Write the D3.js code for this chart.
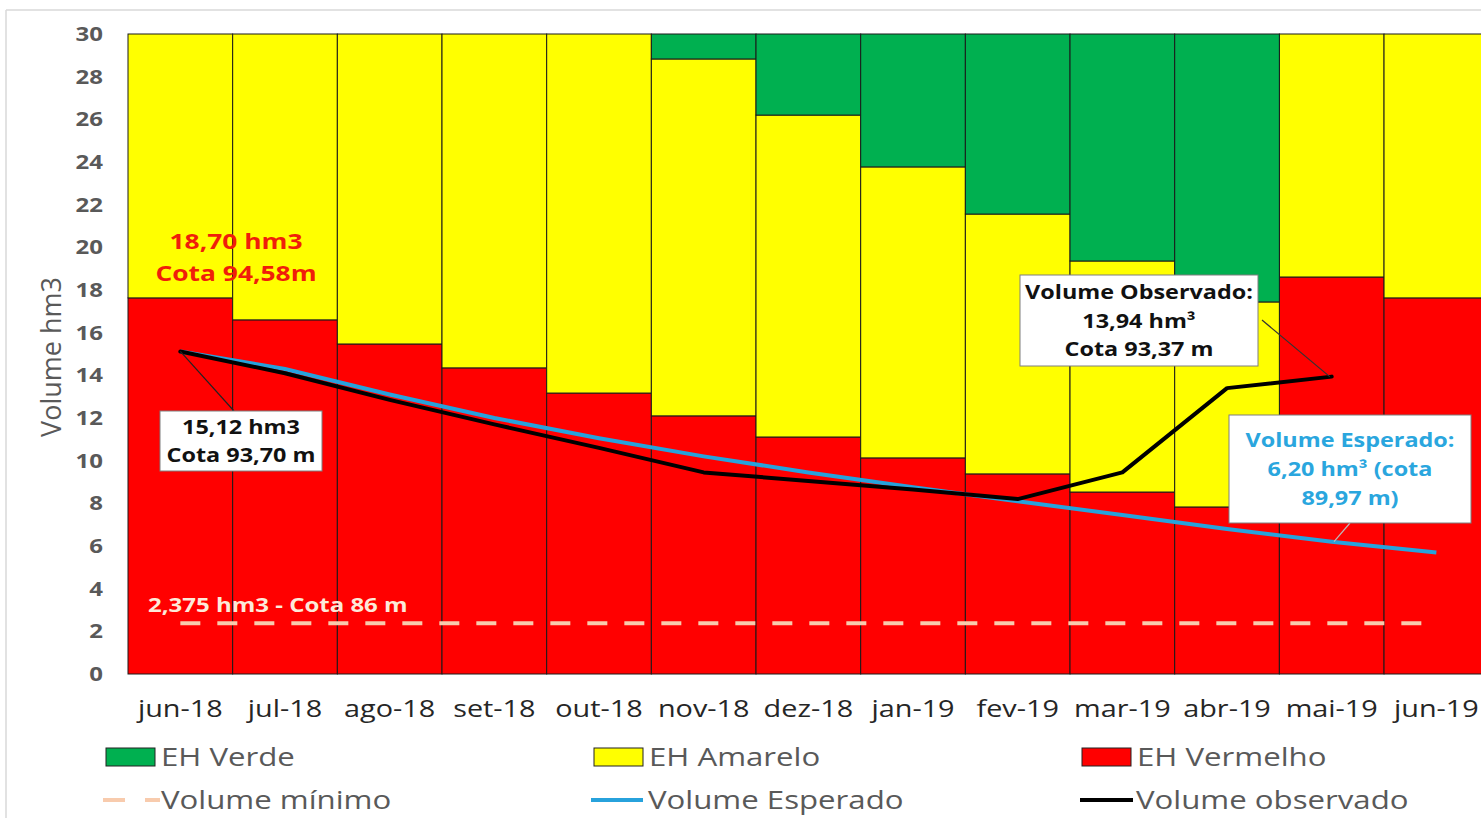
<!DOCTYPE html>
<html>
<head>
<meta charset="utf-8" />
<script src="https://cdnjs.cloudflare.com/ajax/libs/d3/7.8.5/d3.min.js"></script>
<style>
  body { margin: 0; background: #fff; overflow: hidden; }
  text { font-family: 'Open Sans', 'Noto Sans', sans-serif; }
  .ytick text { font-weight: bold; fill: #595959; font-size: 20px; }
  .xtick text { fill: #262626; font-size: 24px; }
  .lg { fill: #595959; font-size: 26px; }
</style>
</head>
<body>
<script>
// months (categories)
const meses = ["jun-18", "jul-18", "ago-18", "set-18", "out-18", "nov-18", "dez-18",
  "jan-19", "fev-19", "mar-19", "abr-19", "mai-19", "jun-19"];

// hydrological state bands (hm3), stacked bottom to top
const ehVermelho = [17.63, 16.6, 15.47, 14.35, 13.17, 12.1, 11.11, 10.13, 9.38, 8.53, 7.83, 18.61, 17.63];
const ehAmarelo = [12.37, 13.4, 14.53, 15.65, 16.83, 16.73, 15.09, 13.64, 12.18, 10.83, 9.61, 11.39, 12.37];
const ehVerde = [0, 0, 0, 0, 0, 1.17, 3.8, 6.23, 8.44, 10.64, 12.56, 0, 0];

// lines
const volEsperado = [15.12, 14.3, 13.1, 12.0, 11.05, 10.2, 9.45, 8.75, 8.1, 7.45, 6.8, 6.2, 5.7];
const volObservado = [15.12, 14.1, 12.85, 11.7, 10.6, 9.45, 9.05, 8.65, 8.2, 9.45, 13.4, 13.94];
const volMinimo = 2.375;

const yTicks = d3.range(0, 31, 2);

const W = 1481, H = 818;
const SX = 1.2; // the source picture is stretched sideways
const svg = d3.select("body").append("svg").attr("width", W).attr("height", H);

// frame
svg.append("line").attr("x1", 6).attr("x2", W).attr("y1", 10).attr("y2", 10)
  .attr("stroke", "#d9d9d9").attr("stroke-width", 1.5);
svg.append("line").attr("x1", 6).attr("x2", 6).attr("y1", 10).attr("y2", H)
  .attr("stroke", "#d9d9d9").attr("stroke-width", 1.5);

const x = d3.scaleBand().domain(meses).range([128, 128 + 13 * 104.67]).padding(0);
const y = d3.scaleLinear().domain([0, 30]).range([674, 34]);

const table = meses.map((m, i) => ({ mes: m, vermelho: ehVermelho[i], amarelo: ehAmarelo[i], verde: ehVerde[i] }));
const stack = d3.stack().keys(["vermelho", "amarelo", "verde"])(table);
const cores = { vermelho: "#ff0000", amarelo: "#ffff00", verde: "#00b050" };

svg.append("g").selectAll("g").data(stack).join("g")
  .attr("fill", d => cores[d.key])
  .selectAll("rect").data(d => d.filter(p => p[1] - p[0] > 0)).join("rect")
  .attr("x", d => x(d.data.mes))
  .attr("width", x.bandwidth())
  .attr("y", d => y(d[1]))
  .attr("height", d => y(d[0]) - y(d[1]))
  .attr("stroke", "#1a1a1a").attr("stroke-width", 1);

// text helper, stretched horizontally around its anchor
function txt(g, tx, ty, s) {
  return g.append("text").attr("transform", `translate(${tx},${ty}) scale(${SX},1)`).text(s);
}

// axes
svg.append("g").attr("class", "ytick").attr("transform", "translate(128,0)")
  .call(d3.axisLeft(y).tickValues(yTicks).tickSize(0).tickPadding(25))
  .call(g => g.select(".domain").remove())
  .call(g => g.selectAll("text").attr("x", -25 / SX).attr("transform", `scale(${SX},1)`));

svg.append("g").attr("class", "xtick").attr("transform", "translate(0,674)")
  .call(d3.axisBottom(x).tickSize(0).tickPadding(26))
  .call(g => g.select(".domain").remove())
  .call(g => g.selectAll("text").attr("transform", `scale(${SX},1)`));

svg.append("text").attr("transform", "translate(61,357) rotate(-90)")
  .attr("text-anchor", "middle").attr("fill", "#595959").attr("font-size", 27)
  .text("Volume hm3");

const cx = d => x(d) + x.bandwidth() / 2;

// minimum volume
svg.append("line")
  .attr("x1", cx(meses[0])).attr("x2", cx(meses[12]))
  .attr("y1", y(volMinimo)).attr("y2", y(volMinimo))
  .attr("stroke", "#f8cbad").attr("stroke-width", 4)
  .attr("stroke-dasharray", "20,17");

const line = d3.line().x((d, i) => cx(meses[i])).y(d => y(d));
svg.append("path").datum(volEsperado).attr("d", line)
  .attr("fill", "none").attr("stroke", "#27a2dc").attr("stroke-width", 4);
svg.append("path").datum(volObservado).attr("d", line)
  .attr("fill", "none").attr("stroke", "#000").attr("stroke-width", 4)
  .attr("stroke-linejoin", "round").attr("stroke-linecap", "round");

// annotations
const ann = svg.append("g").attr("font-weight", "bold");
txt(ann, 236, 249, "18,70 hm3").attr("text-anchor", "middle").attr("fill", "#f01e0a").attr("font-size", 22);
txt(ann, 236, 281, "Cota 94,58m").attr("text-anchor", "middle").attr("fill", "#f01e0a").attr("font-size", 22);
txt(ann, 148, 612, "2,375 hm3 - Cota 86 m").attr("fill", "#fde9d9").attr("font-size", 20);

function callout(x0, y0, w, h, lines, color, lx1, ly1, lx2, ly2, lcolor) {
  svg.append("line").attr("x1", lx1).attr("y1", ly1).attr("x2", lx2).attr("y2", ly2)
    .attr("stroke", lcolor).attr("stroke-width", 1.2);
  svg.append("rect").attr("x", x0).attr("y", y0).attr("width", w).attr("height", h)
    .attr("fill", "#fff").attr("stroke", "#7f7f7f").attr("stroke-width", 1);
  const lh = 28.8;
  const top = y0 + h / 2 - lh * lines.length / 2;
  lines.forEach((t, i) => {
    txt(svg, x0 + w / 2, top + lh * i + lh / 2 + 7, t)
      .attr("text-anchor", "middle").attr("fill", color)
      .attr("font-weight", "bold").attr("font-size", 19.5);
  });
}
callout(160, 411, 162, 60, ["15,12 hm3", "Cota 93,70 m"], "#111",
  cx(meses[0]), y(volObservado[0]), 234, 411, "#222");
callout(1020, 275, 238, 91, ["Volume Observado:", "13,94 hm³", "Cota 93,37 m"], "#111",
  1262, 320, cx(meses[11]) - 2, y(volObservado[11]), "#333");
callout(1229, 415, 242, 108, ["Volume Esperado:", "6,20 hm³ (cota", "89,97 m)"], "#2aa6de",
  1350, 523, 1334, y(volEsperado[11]), "#bbb");

// legend
const lg = svg.append("g");
const sw = [["EH Verde", "#00b050", 106], ["EH Amarelo", "#ffff00", 594], ["EH Vermelho", "#ff0000", 1082]];
sw.forEach(([t, c, lx]) => {
  lg.append("rect").attr("x", lx).attr("y", 748).attr("width", 49).attr("height", 18)
    .attr("fill", c).attr("stroke", "#222").attr("stroke-width", 1);
  txt(lg, lx + 55, 766, t).attr("class", "lg");
});
lg.append("line").attr("x1", 103).attr("x2", 160).attr("y1", 800).attr("y2", 800)
  .attr("stroke", "#f8cbad").attr("stroke-width", 4).attr("stroke-dasharray", "22,20");
txt(lg, 161, 809, "Volume mínimo").attr("class", "lg");
lg.append("line").attr("x1", 591).attr("x2", 643).attr("y1", 800).attr("y2", 800)
  .attr("stroke", "#27a2dc").attr("stroke-width", 4);
txt(lg, 648, 809, "Volume Esperado").attr("class", "lg");
lg.append("line").attr("x1", 1080).attr("x2", 1133).attr("y1", 800).attr("y2", 800)
  .attr("stroke", "#000").attr("stroke-width", 4);
txt(lg, 1136, 809, "Volume observado").attr("class", "lg");
</script>
</body>
</html>
